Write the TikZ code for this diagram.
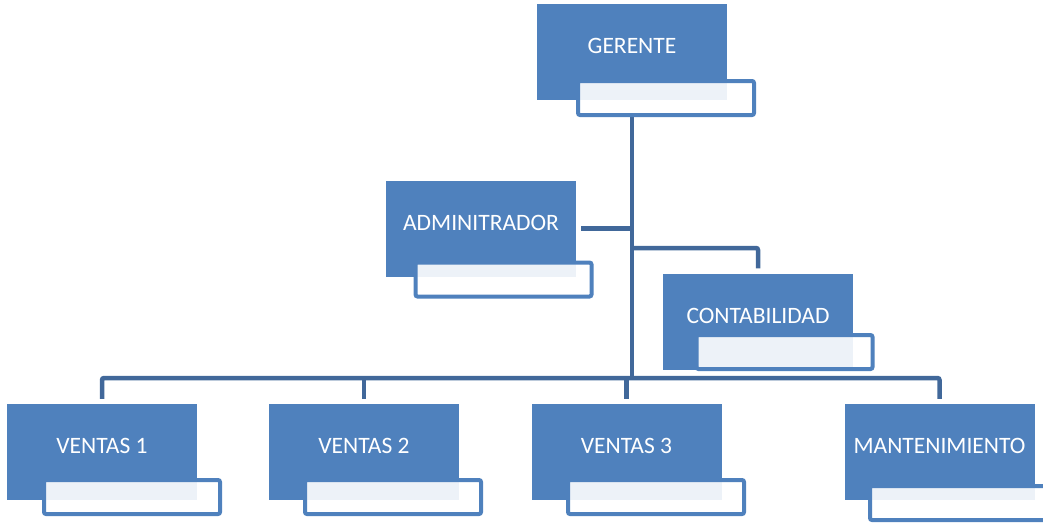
\documentclass[tikz,border=0pt]{standalone}
\usepackage{fontspec}
\setmainfont{Carlito}
\usetikzlibrary{backgrounds}
\definecolor{azul}{HTML}{4F81BD}
\definecolor{linea}{HTML}{41689A}
\begin{document}
\begin{tikzpicture}[x=1pt,y=-1pt,
  caja/.style={rectangle,fill=azul,minimum width=190pt,minimum height=96pt,inner sep=0pt},
  subcaja/.style={rectangle,draw=azul,line width=4pt,rounded corners=2pt,fill=white,fill opacity=0.9,minimum width=176pt,minimum height=34pt,inner sep=0pt},
  texto/.style={text=white,font=\fontsize{23.5}{28}\selectfont,inner sep=0pt},
  conector/.style={draw=linea,line width=4.5pt,rounded corners=2pt}]
\useasboundingbox (0,0) rectangle (1043,523);

\node[caja] (ger) at (632,52) {};
\node[subcaja] (gsub) at (666,98) {};
\node[texto] (gtxt) at ([yshift=6pt]ger.center) {GERENTE};

\node[caja] (adm) at (481,228.5) {};
\node[subcaja] (asub) at (503.5,279.5) {};
\node[texto] (atxt) at ([yshift=6pt]adm.center) {ADMINITRADOR};

\node[caja] (cont) at (758,321.5) {};
\node[subcaja] (csub) at (784.5,352) {};
\node[texto] (ctxt) at ([yshift=6pt]cont.center) {CONTABILIDAD};

\node[caja] (v1) at (102,452) {};
\node[subcaja] (v1sub) at (132,497) {};
\node[texto] (v1txt) at ([yshift=6pt]v1.center) {VENTAS 1};

\node[caja] (v2) at (364,452) {};
\node[subcaja] (v2sub) at (393,497) {};
\node[texto] (v2txt) at ([yshift=6pt]v2.center) {VENTAS 2};

\node[caja] (v3) at (626.5,452) {};
\node[subcaja] (v3sub) at (656,497) {};
\node[texto] (v3txt) at ([yshift=6pt]v3.center) {VENTAS 3};

\node[caja] (mant) at (939.5,452) {};
\node[subcaja] (msub) at (958,503) {};
\node[texto] (mtxt) at ([yshift=6pt]mant.center) {MANTENIMIENTO};

% conectores
\coordinate (rama) at (632,248);
\coordinate (bus) at (632,378);
\begin{pgfonlayer}{background}
\draw[conector] (ger.south |- gsub.south) -- (bus);
\draw[conector] ([xshift=5pt]adm.east) -- (ger |- adm.east);
\draw[conector] (rama) -| ([yshift=5pt]cont.north);
\draw[conector] ([yshift=5pt]v1.north) |- (bus) -| ([yshift=5pt]mant.north);
\draw[conector] ([yshift=5pt]v2.north) -- (v2 |- bus);
\draw[conector] ([yshift=5pt]v3.north) -- (v3 |- bus);
\end{pgfonlayer}
\end{tikzpicture}
\end{document}
